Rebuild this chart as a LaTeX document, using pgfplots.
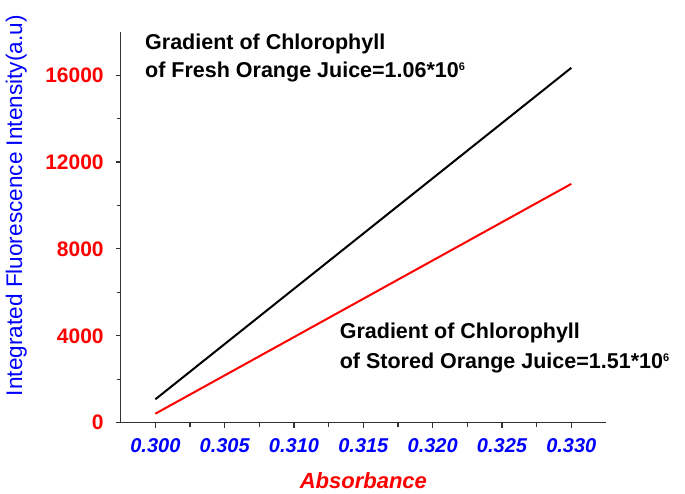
\documentclass[border=0pt]{standalone}
\usepackage{fontspec}
\setmainfont{Liberation Sans}
\usepackage{pgfplots}
\pgfplotsset{compat=1.18}
\begin{document}
\begin{tikzpicture}
\useasboundingbox (-120.7pt,-70.3pt) rectangle (564.3pt,422.7pt);
\begin{axis}[
  at={(0pt,0pt)}, anchor=south west,
  scale only axis, width=485.3pt, height=391pt,
  xmin=0.2975, xmax=0.3325, ymin=0, ymax=18000,
  axis lines*=left,
  axis line style={line width=1.3pt, black!80},
  xtick={0.300,0.305,...,0.331}, minor x tick num=1,
  ytick={0,4000,...,16000}, minor y tick num=1,
  tick align=outside,
  major tick length=5pt, minor tick length=4pt,
  every tick/.style={line width=1.1pt, black!80},
  scaled x ticks=false, scaled y ticks=false,
  /pgf/number format/assume math mode=true,
  xticklabel style={/pgf/number format/.cd, fixed, fixed zerofill, precision=3, /tikz/.cd,
    font=\fontsize{20}{20}\selectfont\bfseries\itshape, text=blue, yshift=-7.5pt},
  yticklabel style={/pgf/number format/.cd, 1000 sep={}, /tikz/.cd,
    font=\fontsize{21}{21}\selectfont\bfseries, text=red, xshift=-8.5pt},
  xlabel={Absorbance},
  xlabel style={font=\fontsize{22}{22}\selectfont\bfseries\itshape, text=red, inner sep=0pt,
    at={(axis description cs:0.5,-0.167)}, anchor=base},
  ylabel={Integrated Fluorescence Intensity(a.u)},
  ylabel style={font=\fontsize{22.6}{22.6}\selectfont, text=blue, inner sep=0pt,
    at={(axis description cs:-0.215,0.555)}, anchor=center},
  clip=false,
]
\addplot[black, line width=2pt] coordinates {(0.300,1078) (0.330,16338)};
\addplot[red, line width=2pt] coordinates {(0.300,415) (0.330,10995)};
\node[anchor=base west, font=\fontsize{21.5}{21.5}\selectfont\bfseries, inner sep=0pt] at (axis cs:0.29925,17167) {Gradient of Chlorophyll};
\node[anchor=base west, font=\fontsize{21.5}{21.5}\selectfont\bfseries, inner sep=0pt] at (axis cs:0.29925,15877) {of Fresh Orange Juice=1.06*10\raisebox{7pt}{\fontsize{11}{11}\selectfont 6}};
\node[anchor=base west, font=\fontsize{21.5}{21.5}\selectfont\bfseries, inner sep=0pt] at (axis cs:0.31329,3886) {Gradient of Chlorophyll};
\node[anchor=base west, font=\fontsize{21.5}{21.5}\selectfont\bfseries, inner sep=0pt] at (axis cs:0.31329,2504) {of Stored Orange Juice=1.51*10\raisebox{7pt}{\fontsize{11}{11}\selectfont 6}};
\end{axis}
\end{tikzpicture}
\end{document}
